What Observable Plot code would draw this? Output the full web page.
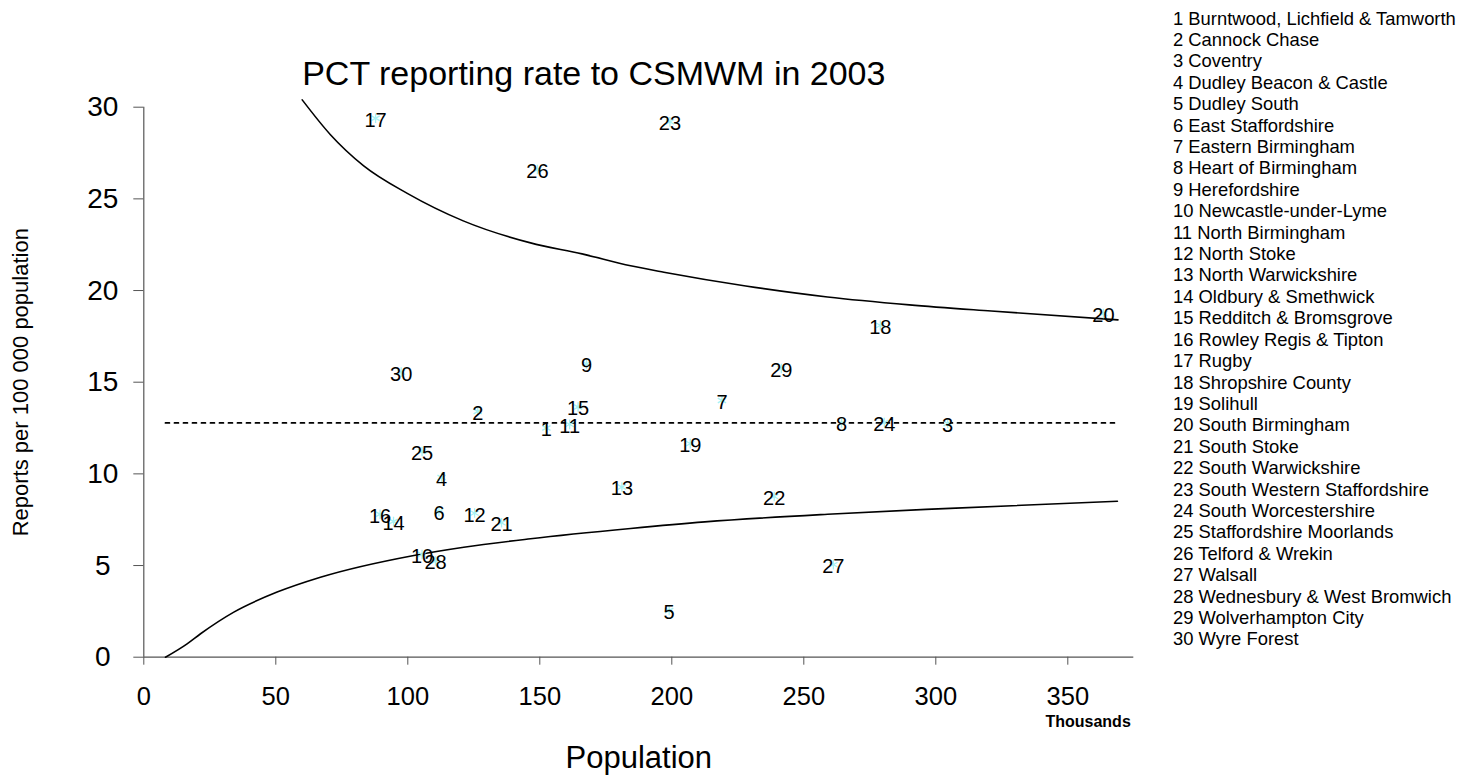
<!DOCTYPE html>
<html>
<head>
<meta charset="utf-8">
<script src="https://cdn.jsdelivr.net/npm/d3@7"></script>
<script src="https://cdn.jsdelivr.net/npm/@observablehq/plot@0.6"></script>
<style>
  html, body { margin: 0; padding: 0; background: #fff; }
  #wrap { position: relative; width: 1471px; height: 784px; font-family: Arial, "Liberation Sans", sans-serif; }
  #legend { position: absolute; left: 1173px; top: 7.6px; font-size: 18.4px; line-height: 21.4px; color: #000; white-space: nowrap; }
</style>
</head>
<body>
<div id="wrap"><div id="legend"></div></div>
<script>
// ---- data ----
const pctIds = [1,2,3,4,5,6,7,8,9,10,11,12,13,14,15,16,17,18,19,20,21,22,23,24,25,26,27,28,29,30];
const pctNames = [
  "Burntwood, Lichfield & Tamworth", "Cannock Chase", "Coventry", "Dudley Beacon & Castle",
  "Dudley South", "East Staffordshire", "Eastern Birmingham", "Heart of Birmingham",
  "Herefordshire", "Newcastle-under-Lyme", "North Birmingham", "North Stoke",
  "North Warwickshire", "Oldbury & Smethwick", "Redditch & Bromsgrove", "Rowley Regis & Tipton",
  "Rugby", "Shropshire County", "Solihull", "South Birmingham", "South Stoke",
  "South Warwickshire", "South Western Staffordshire", "South Worcestershire",
  "Staffordshire Moorlands", "Telford & Wrekin", "Walsall", "Wednesbury & West Bromwich",
  "Wolverhampton City", "Wyre Forest"
];
// population (thousands)
const population = [152.5,126.5,304.5,112.8,199.0,111.8,219.0,264.3,167.7,105.4,161.3,125.3,181.1,94.6,164.5,89.5,87.8,279.0,207.0,363.5,135.5,238.8,199.3,280.5,105.4,149.1,261.2,110.5,241.5,97.5];
// reports per 100 000 population
const reportRate = [12.5,13.4,12.75,9.8,2.55,7.95,14.0,12.78,16.0,5.6,12.7,7.86,9.28,7.4,13.65,7.8,29.4,18.1,11.65,18.75,7.33,8.76,29.2,12.8,11.22,26.6,5.05,5.25,15.75,15.55];

// control limits
const upperPop  = [60, 70.7, 83.3, 99.8, 121, 146.5, 166, 184.4, 197, 228, 259, 290, 321, 369];
const upperRate = [30.4, 28.5, 26.8, 25.3, 23.8, 22.6, 22.0, 21.35, 21.0, 20.25, 19.65, 19.22, 18.88, 18.4];
const lowerPop  = [8.2, 16.4, 21.5, 34.1, 50.5, 66.9, 102.3, 121.2, 146.5, 184.4, 212.5, 259, 305.4, 368.8];
const lowerRate = [0, 0.73, 1.28, 2.46, 3.55, 4.36, 5.55, 6.0, 6.46, 7.02, 7.38, 7.8, 8.12, 8.51];
const meanRate = 12.78;
const meanPop = [8.2, 369];

const xTicks = [0, 50, 100, 150, 200, 250, 300, 350];
const yTicks = [0, 5, 10, 15, 20, 25, 30];

const titleText = "PCT reporting rate to CSMWM in 2003";
const xLabel = "Population";
const xUnit = "Thousands";
const yLabel = "Reports per 100 000 population";

// ---- build ----
const points = pctIds.map((id, i) => ({id, pop: population[i], rate: reportRate[i]}));
const upper = upperPop.map((p, i) => ({pop: p, rate: upperRate[i]}));
const lower = lowerPop.map((p, i) => ({pop: p, rate: lowerRate[i]}));
const mean = meanPop.map(p => ({pop: p, rate: meanRate}));

const font = "Arial, 'Liberation Sans', sans-serif";

const chart = Plot.plot({
  width: 1471,
  height: 784,
  marginLeft: 143.3,
  marginRight: 337.7,
  marginTop: 106.7,
  marginBottom: 127.3,
  style: {fontFamily: font, background: "white", color: "black", overflow: "visible"},
  x: {domain: [0, 375]},
  y: {domain: [0, 30]},
  marks: [
    Plot.axisX({ticks: xTicks, tickSize: 8, tickPadding: 22, fontSize: 25.5, stroke: "#555", fill: "black", label: null, tickFormat: d => String(d)}),
    Plot.axisY({ticks: yTicks, tickSize: 10, tickPadding: 31, textAnchor: "middle", fontSize: 28, stroke: "#555", fill: "black", label: null, tickFormat: d => String(d)}),
    Plot.ruleY([0], {stroke: "#555", strokeWidth: 1.2}),
    Plot.ruleX([0], {stroke: "#555", strokeWidth: 1.2}),
    Plot.line(upper, {x: "pop", y: "rate", stroke: "black", strokeWidth: 1.6, curve: "monotone-x"}),
    Plot.line(lower, {x: "pop", y: "rate", stroke: "black", strokeWidth: 1.6, curve: "monotone-x"}),
    Plot.line(mean, {x: "pop", y: "rate", stroke: "black", strokeWidth: 1.7, strokeDasharray: "4,5"}),
    Plot.dot(points, {x: "pop", y: "rate", symbol: "asterisk", r: 4.5, stroke: "#a8f2f4", strokeWidth: 1.3}),
    Plot.text(points, {x: "pop", y: "rate", text: d => String(d.id), fontSize: 20, fill: "black", dy: 2}),
    Plot.text([titleText], {frameAnchor: "top", dx: -45, dy: -46, fontSize: 34, fill: "black"}),
    Plot.text([xLabel], {frameAnchor: "bottom", dy: 111, fontSize: 31, fill: "black"}),
    Plot.text([xUnit], {frameAnchor: "bottom-right", textAnchor: "end", dx: -3, dy: 70, fontSize: 16, fontWeight: "bold", fill: "black"}),
    Plot.text([yLabel], {frameAnchor: "left", textAnchor: "middle", rotate: -90, dx: -123, fontSize: 22, fill: "black"})
  ]
});

const wrap = document.getElementById("wrap");
chart.style.position = "absolute";
chart.style.left = "0";
chart.style.top = "0";
wrap.insertBefore(chart, wrap.firstChild);

document.getElementById("legend").innerHTML =
  pctIds.map((id, i) => `<div>${id} ${pctNames[i].replace(/&/g, "&amp;")}</div>`).join("");
</script>
</body>
</html>
